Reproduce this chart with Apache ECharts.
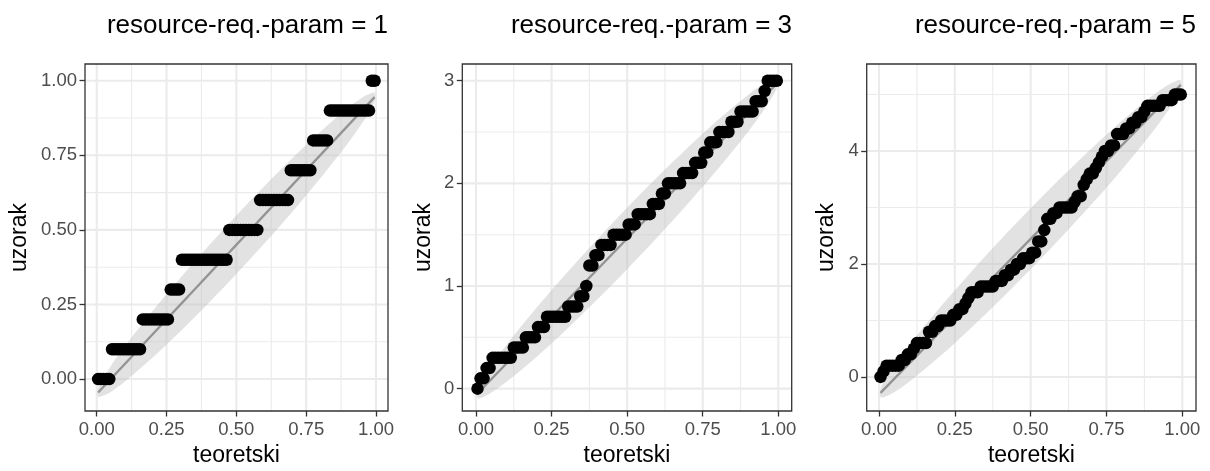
<!DOCTYPE html>
<html><head><meta charset="utf-8">
<script src="https://cdn.jsdelivr.net/npm/echarts@6/dist/echarts.min.js"></script>
<style>html,body{margin:0;padding:0;background:#fff}#c{width:1210px;height:471px}</style>
</head><body><div id="c"></div>
<script>
// ---------- data ----------
const panelTitles = ['resource-req.-param = 1', 'resource-req.-param = 3', 'resource-req.-param = 5'];
const xAxisTitle = 'teoretski';
const yAxisTitle = 'uzorak';

// theoretical uniform quantiles (ppoints, n = 100)
const theoretical = [0.005,0.015,0.025,0.035,0.045,0.055,0.065,0.075,0.085,0.095,
0.105,0.115,0.125,0.135,0.145,0.155,0.165,0.175,0.185,0.195,
0.205,0.215,0.225,0.235,0.245,0.255,0.265,0.275,0.285,0.295,
0.305,0.315,0.325,0.335,0.345,0.355,0.365,0.375,0.385,0.395,
0.405,0.415,0.425,0.435,0.445,0.455,0.465,0.475,0.485,0.495,
0.505,0.515,0.525,0.535,0.545,0.555,0.565,0.575,0.585,0.595,
0.605,0.615,0.625,0.635,0.645,0.655,0.665,0.675,0.685,0.695,
0.705,0.715,0.725,0.735,0.745,0.755,0.765,0.775,0.785,0.795,
0.805,0.815,0.825,0.835,0.845,0.855,0.865,0.875,0.885,0.895,
0.905,0.915,0.925,0.935,0.945,0.955,0.965,0.975,0.985,0.995];

const sample1 = [0,0,0,0,0,
0.1,0.1,0.1,0.1,0.1,0.1,0.1,0.1,0.1,0.1,0.1,
0.2,0.2,0.2,0.2,0.2,0.2,0.2,0.2,0.2,0.2,
0.3,0.3,0.3,0.3,
0.4,0.4,0.4,0.4,0.4,0.4,0.4,0.4,0.4,0.4,0.4,0.4,0.4,0.4,0.4,0.4,0.4,
0.5,0.5,0.5,0.5,0.5,0.5,0.5,0.5,0.5,0.5,0.5,
0.6,0.6,0.6,0.6,0.6,0.6,0.6,0.6,0.6,0.6,0.6,
0.7,0.7,0.7,0.7,0.7,0.7,0.7,0.7,
0.8,0.8,0.8,0.8,0.8,0.8,
0.9,0.9,0.9,0.9,0.9,0.9,0.9,0.9,0.9,0.9,0.9,0.9,0.9,0.9,0.9,
1,1];

const sample2 = [0,
0.1,0.1,
0.2,0.2,
0.3,0.3,0.3,0.3,0.3,0.3,0.3,
0.4,0.4,0.4,0.4,
0.5,0.5,0.5,0.5,
0.6,0.6,0.6,
0.7,0.7,0.7,0.7,0.7,0.7,0.7,
0.8,0.8,0.8,0.8,
0.9,0.9,
1.0,
1.2,1.2,
1.3,1.3,
1.4,1.4,1.4,1.4,
1.5,1.5,1.5,1.5,1.5,
1.6,1.6,1.6,
1.7,1.7,1.7,1.7,1.7,
1.8,1.8,1.8,
1.9,1.9,
2.0,2.0,2.0,2.0,2.0,
2.1,2.1,2.1,2.1,
2.2,2.2,2.2,
2.3,2.3,
2.4,2.4,2.4,
2.5,2.5,2.5,2.5,
2.6,2.6,2.6,
2.7,2.7,2.7,2.7,2.7,
2.8,2.8,2.8,
2.9,
3,3,3,3];

const sample3 = [0,0.1,0.2,0.2,0.2,0.2,0.2,0.3,0.3,0.4,
0.4,0.5,0.6,0.6,0.6,0.6,0.8,0.8,0.9,0.9,
1.0,1.0,1.0,1.0,1.1,1.1,1.2,1.2,1.3,1.4,
1.5,1.5,1.5,1.6,1.6,1.6,1.6,1.6,1.7,1.7,
1.7,1.8,1.8,1.9,1.9,2.0,2.0,2.1,2.1,2.1,
2.2,2.2,2.4,2.4,2.6,2.8,2.8,2.9,2.9,3.0,
3.0,3.0,3.0,3.0,3.1,3.2,3.2,3.4,3.5,3.6,
3.6,3.7,3.8,3.9,4.0,4.0,4.1,4.1,4.3,4.3,
4.3,4.4,4.4,4.5,4.5,4.6,4.6,4.7,4.8,4.8,
4.8,4.8,4.8,4.9,4.9,4.9,4.9,5.0,5.0,5.0];

// reference line (qq line) end points
const lineX = [0.005, 0.995];
const lineY1 = [-0.045, 0.945];
const lineY2 = [-0.047, 2.972];
const lineY3 = [-0.282, 5.172];

// confidence band read at these theoretical positions
const bandX = [0.005,0.02,0.05,0.1,0.2,0.3,0.4,0.5,0.6,0.7,0.8,0.9,0.95,0.98,0.995];
const bandLow1  = [-0.059,-0.057,-0.043,-0.009,0.072,0.160,0.254,0.352,0.454,0.560,0.672,0.791,0.857,0.903,0.931];
const bandHigh1 = [-0.031,-0.003,0.043,0.109,0.228,0.340,0.446,0.548,0.646,0.740,0.828,0.909,0.943,0.957,0.959];
const bandLow2  = [-0.089,-0.086,-0.040,0.064,0.309,0.579,0.865,1.164,1.475,1.799,2.139,2.504,2.705,2.843,2.930];
const bandHigh2 = [-0.005,0.082,0.220,0.422,0.787,1.127,1.451,1.762,2.061,2.347,2.617,2.862,2.965,3.011,3.014];
const bandLow3  = [-0.358,-0.351,-0.270,-0.083,0.360,0.848,1.365,1.905,2.467,3.052,3.666,4.325,4.690,4.939,5.096];
const bandHigh3 = [-0.206,-0.049,0.200,0.565,1.224,1.838,2.423,2.985,3.525,4.042,4.530,4.973,5.160,5.241,5.248];

// ticks
const xTicks = [0, 0.25, 0.5, 0.75, 1];
const xTickLabels = ['0.00', '0.25', '0.50', '0.75', '1.00'];
const xMinor = [0.125, 0.375, 0.625, 0.875];
const yTicks1 = [0, 0.25, 0.5, 0.75, 1];
const yTickLabels1 = ['0.00', '0.25', '0.50', '0.75', '1.00'];
const yMinor1 = [0.125, 0.375, 0.625, 0.875];
const yTicks2 = [0, 1, 2, 3];
const yTickLabels2 = ['0', '1', '2', '3'];
const yMinor2 = [0.5, 1.5, 2.5];
const yTicks3 = [0, 2, 4];
const yTickLabels3 = ['0', '2', '4'];
const yMinor3 = [1, 3, 5];

// ---------- layout ----------
const FONT = 'Liberation Sans, Arial, sans-serif';
const layout = [
  {left: 85,    top: 64, width: 303,   height: 347, xMin: -0.042,  xMax: 1.043,  yMin: -0.107, yMax: 1.056, yNameGap: 54, titleRight: 822},
  {left: 462.3, top: 64, width: 329.4, height: 347, xMin: -0.0453, xMax: 1.0443, yMin: -0.218, yMax: 3.163, yNameGap: 27, titleRight: 418},
  {left: 866.7, top: 64, width: 329.3, height: 347, xMin: -0.0406, xMax: 1.0452, yMin: -0.603, yMax: 5.541, yNameGap: 29, titleRight: 14}
];
const panels = [
  {sample: sample1, lineY: lineY1, low: bandLow1, high: bandHigh1, yTicks: yTicks1, yLabels: yTickLabels1, yMinor: yMinor1},
  {sample: sample2, lineY: lineY2, low: bandLow2, high: bandHigh2, yTicks: yTicks2, yLabels: yTickLabels2, yMinor: yMinor2},
  {sample: sample3, lineY: lineY3, low: bandLow3, high: bandHigh3, yTicks: yTicks3, yLabels: yTickLabels3, yMinor: yMinor3}
];

const chart = echarts.init(document.getElementById('c'), null, {renderer: 'canvas'});
const grids = [], xAxes = [], yAxes = [], series = [], titles = [];

panels.forEach((p, k) => {
  const L = layout[k];
  grids.push({left: L.left, top: L.top, width: L.width, height: L.height, show: true,
    borderColor: '#333333', borderWidth: 1.3, backgroundColor: 'transparent', z: 10,
    containLabel: false, outerBoundsMode: 'none'});
  titles.push({text: panelTitles[k], right: L.titleRight, top: 13, padding: 0,
    textStyle: {fontSize: 26, fontWeight: 'normal', color: '#000', fontFamily: FONT}});
  xAxes.push({type: 'value', gridIndex: k, min: L.xMin, max: L.xMax,
    axisLine: {show: false, onZero: false},
    axisTick: {show: true, customValues: xTicks, length: 5.5, lineStyle: {color: '#333', width: 1.3}},
    axisLabel: {customValues: xTicks, formatter: v => xTickLabels[xTicks.indexOf(v)],
      color: '#4d4d4d', fontSize: 18.5, margin: 9, fontFamily: FONT},
    splitLine: {show: false},
    name: xAxisTitle, nameLocation: 'middle', nameGap: 31,
    nameTextStyle: {fontSize: 23, color: '#000', fontFamily: FONT}});
  yAxes.push({type: 'value', gridIndex: k, min: L.yMin, max: L.yMax,
    axisLine: {show: false, onZero: false},
    axisTick: {show: true, customValues: p.yTicks, length: 5.5, lineStyle: {color: '#333', width: 1.3}},
    axisLabel: {customValues: p.yTicks, formatter: v => p.yLabels[p.yTicks.indexOf(v)],
      color: '#4d4d4d', fontSize: 18.5, margin: 8, fontFamily: FONT},
    splitLine: {show: false},
    name: yAxisTitle, nameLocation: 'middle', nameGap: L.yNameGap,
    nameTextStyle: {fontSize: 23, color: '#000', fontFamily: FONT}});

  // grid lines: [value, orientation(0 vertical / 1 horizontal), minor flag]
  const gl = [];
  xTicks.forEach(v => gl.push([v, 0, 0]));
  xMinor.forEach(v => gl.push([v, 0, 1]));
  p.yTicks.forEach(v => gl.push([v, 1, 0]));
  p.yMinor.forEach(v => gl.push([v, 1, 1]));
  series.push({type: 'custom', xAxisIndex: k, yAxisIndex: k, z: 1, silent: true,
    data: gl, encode: {x: 0, y: 1},
    renderItem: (params, api) => {
      const cs = params.coordSys;
      const v = api.value(0), o = api.value(1), minor = api.value(2);
      const pt = api.coord([v, v]);
      const w = minor ? 1.1 : 2.1;
      const shape = o === 0
        ? {x1: pt[0], y1: cs.y, x2: pt[0], y2: cs.y + cs.height}
        : {x1: cs.x, y1: pt[1], x2: cs.x + cs.width, y2: pt[1]};
      return {type: 'line', shape: shape, style: {stroke: '#ebebeb', lineWidth: w}};
    }});

  // confidence band
  series.push({type: 'custom', xAxisIndex: k, yAxisIndex: k, z: 2, silent: true,
    data: [[bandX[0], p.low[0]]],
    renderItem: (params, api) => {
      const pts = [];
      for (let i = 0; i < bandX.length; i++) pts.push(api.coord([bandX[i], p.high[i]]));
      for (let i = bandX.length - 1; i >= 0; i--) pts.push(api.coord([bandX[i], p.low[i]]));
      return {type: 'polygon', shape: {points: pts, smooth: 0.35},
        style: {fill: 'rgba(190,190,190,0.45)'}};
    }});

  // qq line
  series.push({type: 'line', xAxisIndex: k, yAxisIndex: k, z: 3, silent: true,
    showSymbol: false, data: lineX.map((x, i) => [x, p.lineY[i]]),
    lineStyle: {color: '#939393', width: 2.3}});

  // points
  series.push({type: 'scatter', xAxisIndex: k, yAxisIndex: k, z: 4, silent: true,
    symbol: 'circle', symbolSize: 12.5, large: false,
    data: theoretical.map((x, i) => [x, p.sample[i]]),
    itemStyle: {color: '#000', opacity: 1}});
});

chart.setOption({
  animation: false,
  backgroundColor: '#ffffff',
  textStyle: {fontFamily: FONT},
  title: titles,
  grid: grids,
  xAxis: xAxes,
  yAxis: yAxes,
  series: series
});
</script>
</body></html>
